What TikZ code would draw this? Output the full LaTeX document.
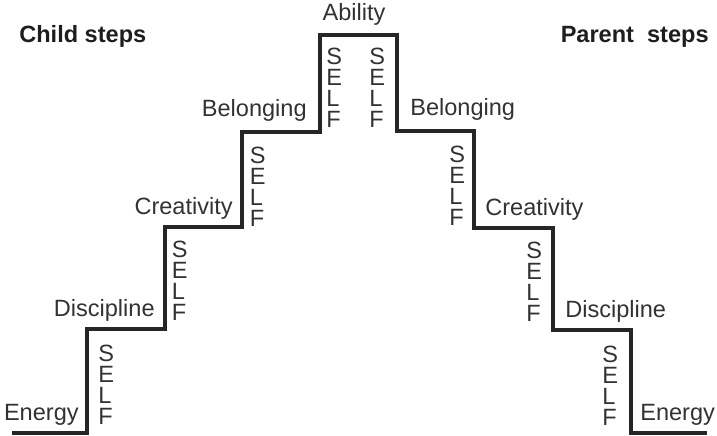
\documentclass[tikz,border=0pt]{standalone}
\usepackage{fontspec}
\setmainfont{Liberation Sans}
\usepackage{xcolor}
\usepackage{tikz}
\usetikzlibrary{positioning}
\definecolor{stepgray}{RGB}{50,50,50}
\definecolor{titlegray}{RGB}{30,30,30}

\begin{document}
\begin{tikzpicture}[
      rung/.style={inner sep=0pt, text=stepgray, font=\fontsize{13.4}{16}\selectfont},
      selftag/.style={inner sep=0pt, align=left, text=stepgray,
                      font=\fontsize{13.4}{11.9}\selectfont},
      heading/.style={inner sep=0pt, text=titlegray, font=\fontsize{13.4}{16}\selectfont\bfseries},
      stair/.style={line width=1.75pt, color=black!85}
    ]
      \useasboundingbox (0,0) rectangle (14.34,8.72);
      %% Stair corners, child side
      \coordinate (a0) at (0.24,0.06);
      \coordinate (a1) at (1.74,0.06);
      \coordinate (a2) at (1.74,2.14);
      \coordinate (a3) at (3.30,2.14);
      \coordinate (a4) at (3.30,4.18);
      \coordinate (a5) at (4.84,4.18);
      \coordinate (a6) at (4.84,6.08);
      \coordinate (a7) at (6.40,6.08);
      \coordinate (a8) at (6.40,8.02);
      %% Stair corners, parent side
      \coordinate (b8) at (7.94,8.02);
      \coordinate (b7) at (7.94,6.10);
      \coordinate (b6) at (9.48,6.10);
      \coordinate (b5) at (9.48,4.16);
      \coordinate (b4) at (11.06,4.16);
      \coordinate (b3) at (11.06,2.12);
      \coordinate (b2) at (12.62,2.12);
      \coordinate (b1) at (12.62,0.06);
      \coordinate (b0) at (14.14,0.06);
      \draw[stair] (a0) -- (a1) -- (a2) -- (a3) -- (a4) -- (a5) -- (a6) -- (a7) -- (a8)
          -- (b8) -- (b7) -- (b6) -- (b5) -- (b4) -- (b3) -- (b2) -- (b1) -- (b0);
      %% Headings
      \node[heading, anchor=base west] (child) at (0.38,7.86) {Child steps};
      \node[heading, anchor=base east] (parent) at (14.18,7.86) {Parent\ \ steps};
      %% Step names, child side
      \node[rung, above left=0.14cm and 0.16cm of a1] (energyL) {Energy};
      \node[rung, above left=0.14cm and 0.2cm of a3] (disciplineL) {Discipline};
      \node[rung, above left=0.14cm and 0.18cm of a5] (creativityL) {Creativity};
      \node[rung, above left=0.2cm and 0.26cm of a7] (belongingL) {Belonging};
      \node[rung, anchor=south] (ability) at (7.08,8.20) {Ability};
      %% Step names, parent side
      \node[rung, above right=0.2cm and 0.26cm of b7] (belongingR) {Belonging};
      \node[rung, above right=0.14cm and 0.22cm of b5] (creativityR) {Creativity};
      \node[rung, above right=0.14cm and 0.24cm of b3] (disciplineR) {Discipline};
      \node[rung, above right=0.14cm and 0.18cm of b1] (energyR) {Energy};
      %% SELF along each riser
      \node[selftag, below right=0.26cm and 0.12cm of a8] (selfL4) {S\\E\\L\\F};
      \node[selftag, below right=0.30cm and 0.15cm of a6] (selfL3) {S\\E\\L\\F};
      \node[selftag, below right=0.28cm and 0.13cm of a4] (selfL2) {S\\E\\L\\F};
      \node[selftag, below right=0.32cm and 0.22cm of a2] (selfL1) {S\\E\\L\\F};
      \node[selftag, below left=0.26cm and 0.23cm of b8] (selfR4) {S\\E\\L\\F};
      \node[selftag, below left=0.30cm and 0.17cm of b6] (selfR3) {S\\E\\L\\F};
      \node[selftag, below left=0.28cm and 0.21cm of b4] (selfR2) {S\\E\\L\\F};
      \node[selftag, below left=0.32cm and 0.25cm of b2] (selfR1) {S\\E\\L\\F};
    \end{tikzpicture}
\end{document}
